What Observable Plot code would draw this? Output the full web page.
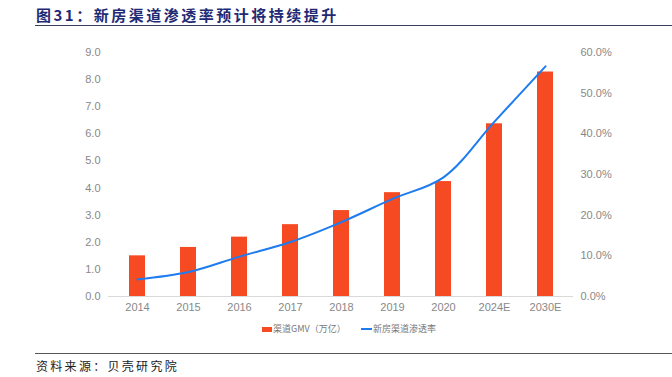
<!DOCTYPE html>
<html><head><meta charset="utf-8">
<script src="https://cdn.jsdelivr.net/npm/d3@7"></script>
<script src="https://cdn.jsdelivr.net/npm/@observablehq/plot@0.6"></script>
<style>
body{margin:0;background:#fff;width:672px;height:377px;position:relative;overflow:hidden;font-family:"Liberation Sans","Noto Sans CJK SC",sans-serif;}
#title{position:absolute;left:36px;top:4px;font-family:"Noto Sans CJK SC",serif;font-weight:700;font-size:15px;color:#1f2a75;letter-spacing:2.5px;}
#tline{position:absolute;left:35px;top:25px;width:637px;height:0;border-top:1.5px solid #3a3f5c;}
#chart{position:absolute;left:0;top:30px;}
#legend{position:absolute;top:322px;left:0;width:672px;font-family:"Noto Sans CJK SC",sans-serif;font-size:9px;color:#777;}
#fline{position:absolute;left:35px;top:353px;width:637px;border-top:1px solid #555;}
#foot{position:absolute;left:36px;top:357px;font-family:"Noto Sans CJK SC",serif;font-size:12px;color:#222;letter-spacing:2.3px;}
</style></head>
<body>
<div id="title">图31：新房渠道渗透率预计将持续提升</div>
<div id="tline"></div>
<div id="chart"></div>
<div id="legend">
 <span style="position:absolute;left:262px;top:5px;width:10px;height:5px;background:#F64A23"></span>
 <span style="position:absolute;left:273px;top:0px;">渠道GMV（万亿）</span>
 <span style="position:absolute;left:361px;top:6px;width:11px;height:2px;background:#1E7CF0"></span>
 <span style="position:absolute;left:373px;top:0px;">新房渠道渗透率</span>
</div>
<div id="fline"></div>
<div id="foot">资料来源：贝壳研究院</div>
<script>
const years = ["2014","2015","2016","2017","2018","2019","2020","2024E","2030E"];
const gmv = [1.50, 1.81, 2.19, 2.65, 3.17, 3.83, 4.24, 6.37, 8.28];
const penetration = [4.2, 6.0, 9.8, 13.4, 18.3, 24.0, 29.3, 43.0, 56.6];
const leftTicks = [0,1,2,3,4,5,6,7,8,9];
const rightTicks = [0,10,20,30,40,50,60];

const bars = years.map((y,i)=>({year:y, v:gmv[i]}));
const line = years.map((y,i)=>({year:y, p:penetration[i], v:penetration[i]/60*9}));

const plot = Plot.plot({
  width:672, height:290,
  marginTop:22, marginBottom:24, marginLeft:108, marginRight:99,
  style:{fontFamily:"Liberation Sans, sans-serif", fontSize:"11px", color:"#888", background:"transparent"},
  x:{domain:years, paddingInner:0.69, paddingOuter:0.345, label:null},
  y:{domain:[0,9], label:null},
  marks:[
    Plot.axisX({tickSize:0, tickPadding:7, label:null, fill:"#888"}),
    Plot.axisY(leftTicks, {anchor:"left", tickSize:0, tickPadding:8, tickFormat:d=>d.toFixed(1), label:null, fill:"#888"}),
    Plot.axisY(rightTicks.map(t=>t/60*9), {anchor:"right", tickSize:0, tickPadding:7, tickFormat:d=>(d/9*60).toFixed(1)+"%", label:null, fill:"#888"}),
    Plot.barY(bars, {x:"year", y:"v", fill:"#F64A23"}),
    Plot.ruleY([0], {stroke:"#d9d9d9", strokeWidth:1}),
    Plot.line(line, {x:"year", y:"v", stroke:"#1E7CF0", strokeWidth:2, curve:"catmull-rom"})
  ]
});
document.getElementById("chart").appendChild(plot);
</script>
</body></html>
